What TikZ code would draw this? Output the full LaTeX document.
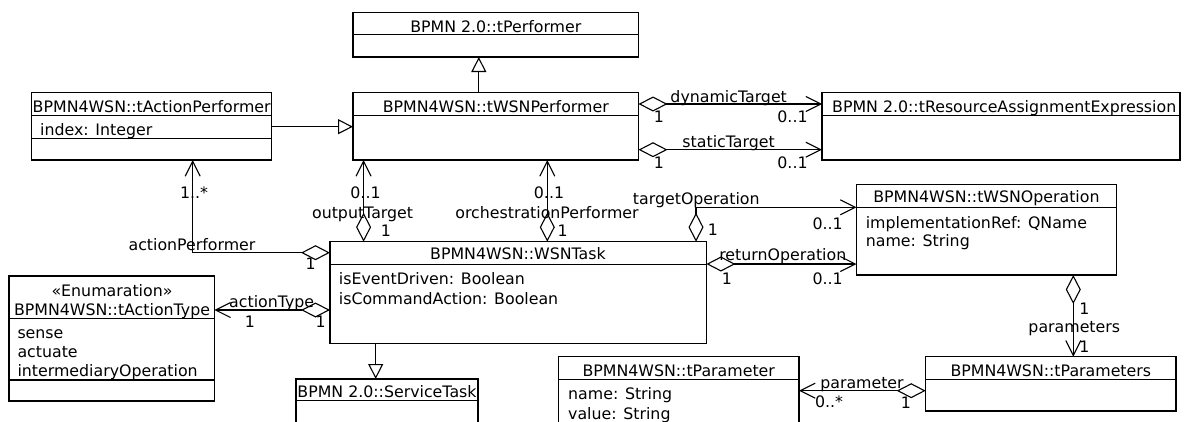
\documentclass[tikz,border=0pt]{standalone}
\usepackage{fontspec}
\setmainfont{DejaVu Sans}
\usetikzlibrary{arrows.meta}

\tikzset{
  umlbox/.style={draw, line width=1.1pt, inner sep=0pt, outer sep=0pt, anchor=north west},
  boxline/.style={line width=1.1pt},
  txt/.style={inner sep=0pt, text height=11.5pt, text depth=0pt, font=\fontsize{15.8}{18}\selectfont},
  gen/.style={line width=1.1pt, -{Triangle[open, length=15pt, width=15pt]}},
  aggr/.style={line width=1.1pt, {Diamond[open, length=29pt, width=15pt]}-{Straight Barb[length=15pt, width=15pt]}},
}

\begin{document}
\begin{tikzpicture}[x=1pt, y=-1pt]
\useasboundingbox (0,0) rectangle (1184,421);
\clip (0,0) rectangle (1184,421);

% classes
\node[umlbox, minimum width=285.5pt, minimum height=44.7pt] (tperf) at (353,12.3) {};
\draw[boxline] ([yshift=-22.4pt]tperf.north west) -- ([yshift=-22.4pt]tperf.north east);
\node[txt] (tperf-t) at (495.8,26.5) {BPMN 2.0::tPerformer};

\node[umlbox, minimum width=239.9pt, minimum height=67.3pt] (tactperf) at (31.8,92.7) {};
\draw[boxline] ([yshift=-23pt]tactperf.north west) -- ([yshift=-23pt]tactperf.north east);
\draw[boxline] ([yshift=-45.6pt]tactperf.north west) -- ([yshift=-45.6pt]tactperf.north east);
\node[txt] (tactperf-t) at (151.7,107) {BPMN4WSN::tActionPerformer};
\node[txt, anchor=west] (tactperf-a) at (40,129.3) {index: Integer};

\node[umlbox, minimum width=285.5pt, minimum height=67.3pt] (twsnperf) at (353,92.7) {};
\draw[boxline] ([yshift=-23pt]twsnperf.north west) -- ([yshift=-23pt]twsnperf.north east);
\node[txt] (twsnperf-t) at (495.8,107) {BPMN4WSN::tWSNPerformer};

\node[umlbox, minimum width=358pt, minimum height=67.3pt] (trae) at (822,92.7) {};
\draw[boxline] ([yshift=-22.5pt]trae.north west) -- ([yshift=-22.5pt]trae.north east);
\node[txt, anchor=west] (trae-t) at (832,106.7) {BPMN 2.0::tResourceAssignmentExpression};

\node[umlbox, minimum width=376.4pt, minimum height=101.6pt] (wsntask) at (330,241.7) {};
\draw[boxline] ([yshift=-22.6pt]wsntask.north west) -- ([yshift=-22.6pt]wsntask.north east);
\node[txt] (wsntask-t) at (518,253.3) {BPMN4WSN::WSNTask};
\node[txt, anchor=west] (wsntask-a) at (338.7,279) {isEventDriven: Boolean};
\node[txt, anchor=west] (wsntask-b) at (338.7,298.7) {isCommandAction: Boolean};

\node[umlbox, minimum width=205.3pt, minimum height=125pt] (tacttype) at (9,276) {};
\draw[boxline] ([yshift=-42.3pt]tacttype.north west) -- ([yshift=-42.3pt]tacttype.north east);
\draw[boxline] ([yshift=-104pt]tacttype.north west) -- ([yshift=-104pt]tacttype.north east);
\node[txt] (tacttype-s) at (112,290.7) {«Enumaration»};
\node[txt] (tacttype-t) at (112,310) {BPMN4WSN::tActionType};
\node[txt, anchor=west] (tacttype-a) at (17.3,332.3) {sense};
\node[txt, anchor=west] (tacttype-b) at (17.3,351.7) {actuate};
\node[txt, anchor=west] (tacttype-c) at (17.3,371) {intermediaryOperation};

\node[umlbox, minimum width=259.8pt, minimum height=90.5pt] (twsnop) at (856.5,184.5) {};
\draw[boxline] ([yshift=-22.8pt]twsnop.north west) -- ([yshift=-22.8pt]twsnop.north east);
\node[txt] (twsnop-t) at (986.4,196.7) {BPMN4WSN::tWSNOperation};
\node[txt, anchor=west] (twsnop-a) at (865.6,222.3) {implementationRef: QName};
\node[txt, anchor=west] (twsnop-b) at (865.6,241) {name: String};

\node[umlbox, minimum width=250.3pt, minimum height=54.3pt] (tparams) at (925.7,356.7) {};
\draw[boxline] ([yshift=-22.6pt]tparams.north west) -- ([yshift=-22.6pt]tparams.north east);
\node[txt] (tparams-t) at (1050.8,371) {BPMN4WSN::tParameters};

\node[umlbox, minimum width=240.5pt, minimum height=90pt] (tparam) at (558.5,356.7) {};
\draw[boxline] ([yshift=-22.6pt]tparam.north west) -- ([yshift=-22.6pt]tparam.north east);
\node[txt] (tparam-t) at (678.7,371) {BPMN4WSN::tParameter};
\node[txt, anchor=west] (tparam-a) at (568,394) {name: String};
\node[txt, anchor=west] (tparam-b) at (568,413.3) {value: String};

\node[umlbox, minimum width=182pt, minimum height=80pt] (servtask) at (296,379) {};
\draw[boxline] ([yshift=-21.7pt]servtask.north west) -- ([yshift=-21.7pt]servtask.north east);
\node[txt] (servtask-t) at (387,392) {BPMN 2.0::ServiceTask};

% connector positions
\coordinate (ygen) at (0,126.7);
\coordinate (xgp) at (478.8,0);
\coordinate (xst) at (375.7,0);
\coordinate (ydt) at (0,104);
\coordinate (yst) at (0,149.7);
\coordinate (xap) at (192.7,252.7);
\coordinate (xot) at (363.6,0);
\coordinate (xop) at (547.3,0);
\coordinate (xto) at (696,207.3);
\coordinate (yro) at (0,264);
\coordinate (yat) at (0,310);
\coordinate (xps) at (1073.3,0);
\coordinate (ypm) at (0,390.7);

% generalisations
\draw[gen] (tactperf.east |- ygen) -- (twsnperf.west |- ygen);
\draw[gen] (twsnperf.north -| xgp) -- (tperf.south -| xgp);
\draw[gen] (wsntask.south -| xst) -- (servtask.north -| xst);

% associations
\draw[aggr] (twsnperf.east |- ydt) -- (trae.west |- ydt);
\draw[aggr] (twsnperf.east |- yst) -- (trae.west |- yst);
\draw[aggr] (wsntask.west |- xap) -| (tactperf.south -| xap);
\draw[aggr] (wsntask.north -| xot) -- (twsnperf.south -| xot);
\draw[aggr] (wsntask.north -| xop) -- (twsnperf.south -| xop);
\draw[aggr] (wsntask.north -| xto) |- (twsnop.west |- xto);
\draw[aggr] (wsntask.east |- yro) -- (twsnop.west |- yro);
\draw[aggr] (wsntask.west |- yat) -- (tacttype.east |- yat);
\draw[aggr] (twsnop.south -| xps) -- (tparams.north -| xps);
\draw[aggr] (tparams.west |- ypm) -- (tparam.east |- ypm);

% role names and multiplicities
\node[txt] (l-dt) at (728.7,96.7) {dynamicTarget};
\node[txt] (l-dt1) at (659,116.7) {1};
\node[txt] (l-dt2) at (792.5,116.7) {0..1};
\node[txt] (l-st) at (728.6,141.7) {staticTarget};
\node[txt] (l-st1) at (659,162.3) {1};
\node[txt] (l-st2) at (792.5,162.3) {0..1};
\node[txt] (l-ap0) at (194,192.3) {1..*};
\node[txt] (l-ot0) at (365.5,192.3) {0..1};
\node[txt] (l-op0) at (549,192.3) {0..1};
\node[txt] (l-ot) at (362.6,212.7) {outputTarget};
\node[txt] (l-ot1) at (385.8,230.7) {1};
\node[txt] (l-op) at (547,212.7) {orchestrationPerformer};
\node[txt] (l-op1) at (562.6,230.7) {1};
\node[txt] (l-ap) at (192,245) {actionPerformer};
\node[txt] (l-ap1) at (310.7,263.3) {1};
\node[txt] (l-to) at (696.3,198.3) {targetOperation};
\node[txt] (l-to1) at (712.8,230) {1};
\node[txt] (l-to2) at (827.6,223.3) {0..1};
\node[txt] (l-ro) at (782.8,255) {returnOperation};
\node[txt] (l-ro1) at (727,278.3) {1};
\node[txt] (l-ro2) at (827.6,278.3) {0..1};
\node[txt] (l-at) at (271.7,301.7) {actionType};
\node[txt] (l-at1) at (250,321.7) {1};
\node[txt] (l-at2) at (320.7,321.7) {1};
\node[txt] (l-ps1) at (1084.5,309) {1};
\node[txt] (l-ps) at (1074.3,326.7) {parameters};
\node[txt] (l-ps2) at (1084.5,346.7) {1};
\node[txt] (l-pm) at (862,382.7) {parameter};
\node[txt] (l-pm1) at (829,401.7) {0..*};
\node[txt] (l-pm2) at (906,402.7) {1};

\end{tikzpicture}
\end{document}
